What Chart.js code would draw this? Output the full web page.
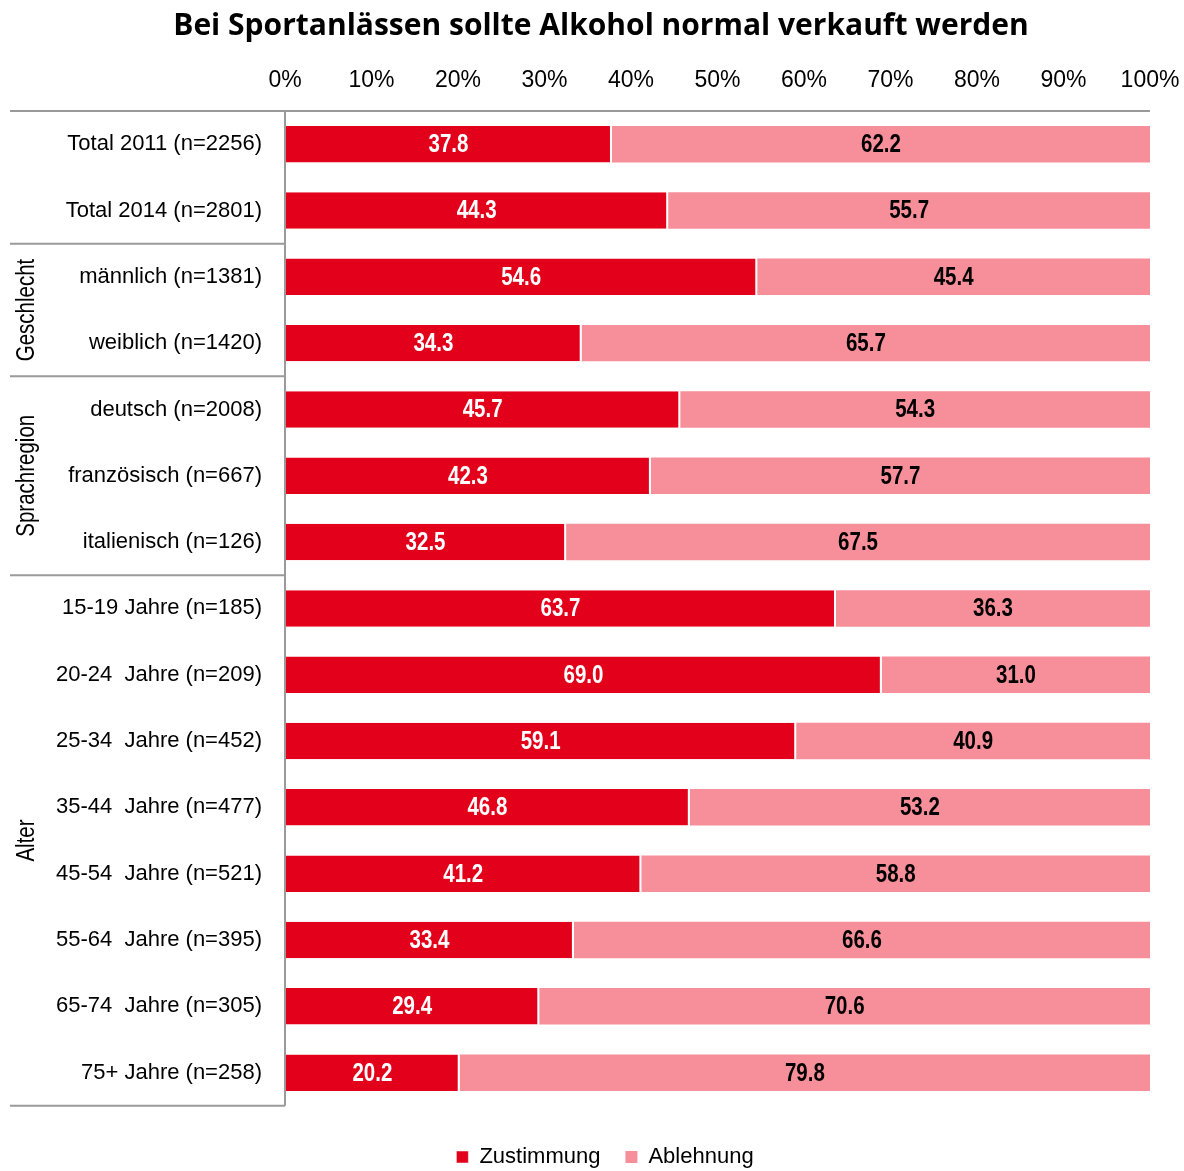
<!DOCTYPE html>
<html>
<head>
<meta charset="utf-8">
<script src="https://cdn.jsdelivr.net/npm/chart.js@4"></script>
<style>
  html, body { margin: 0; padding: 0; background: #fff; }
  canvas { display: block; }
</style>
</head>
<body>
<canvas id="barChart" width="1184" height="1171"></canvas>
<script>
// Kategorien und Werte
const categories = [
    'Total 2011 (n=2256)', 'Total 2014 (n=2801)',
    'männlich (n=1381)', 'weiblich (n=1420)',
    'deutsch (n=2008)', 'französisch (n=667)', 'italienisch (n=126)',
    '15-19 Jahre (n=185)', '20-24  Jahre (n=209)', '25-34  Jahre (n=452)',
    '35-44  Jahre (n=477)', '45-54  Jahre (n=521)', '55-64  Jahre (n=395)',
    '65-74  Jahre (n=305)', '75+ Jahre (n=258)'
];
const zustimmung = [37.8, 44.3, 54.6, 34.3, 45.7, 42.3, 32.5, 63.7, 69.0, 59.1, 46.8, 41.2, 33.4, 29.4, 20.2];
const ablehnung  = [62.2, 55.7, 45.4, 65.7, 54.3, 57.7, 67.5, 36.3, 31.0, 40.9, 53.2, 58.8, 66.6, 70.6, 79.8];
const seriesNames = ['Zustimmung', 'Ablehnung'];
// Gruppen: [Name, erster Index, letzter Index]
const groups = [
    ['', 0, 1],
    ['Geschlecht', 2, 3],
    ['Sprachregion', 4, 6],
    ['Alter', 7, 14]
];

const RED = '#E2001A';
const PINK = '#F78F9B';
const SANS = '"Liberation Sans", Arial, sans-serif';
const LINE = '#9a9a9a';
const SQUEEZE = 0.82; // schmale Schrift nachahmen

function narrowText(ctx, txt, x, y) {
    const w = ctx.measureText(txt).width;
    ctx.fillText(txt, x, y, w * SQUEEZE);
}

// Block horizontal auf eine Mitte schieben
function centerBox(box, cx) {
    if (!box) return;
    const d = cx - (box.left + box.right) / 2;
    box.left += d;
    box.right += d;
}

// Trennlinien, Gruppenbeschriftung und Werte in den Balken
const decoPlugin = {
    id: 'deco',
    afterLayout(chart) {
        // Titel und Legende wie im Original leicht nach rechts
        centerBox(chart.titleBlock, 601);
        centerBox(chart.legend, 605);
    },
    afterDraw(chart) {
        const ctx = chart.ctx;
        const y = chart.scales.y;
        const area = chart.chartArea;
        const px = i => y.getPixelForValue(i);
        ctx.save();
        ctx.strokeStyle = LINE;
        ctx.lineWidth = 2;
        // obere Linie über ganze Breite
        ctx.beginPath();
        ctx.moveTo(10, area.top);
        ctx.lineTo(area.right, area.top);
        ctx.stroke();
        // vertikale Achse
        ctx.beginPath();
        ctx.moveTo(area.left, area.top);
        ctx.lineTo(area.left, area.bottom);
        ctx.stroke();
        // Gruppengrenzen links
        groups.forEach(g => {
            const last = g[2];
            const yy = last === categories.length - 1 ? area.bottom : (px(last) + px(last + 1)) / 2;
            ctx.beginPath();
            ctx.moveTo(10, yy);
            ctx.lineTo(area.left, yy);
            ctx.stroke();
        });
        // Gruppennamen (gedreht)
        ctx.fillStyle = '#000';
        ctx.font = '25px ' + SANS;
        ctx.textAlign = 'center';
        ctx.textBaseline = 'middle';
        groups.forEach(g => {
            if (!g[0]) return;
            const top = g[1] === 0 ? area.top : (px(g[1] - 1) + px(g[1])) / 2;
            const bot = g[2] === categories.length - 1 ? area.bottom : (px(g[2]) + px(g[2] + 1)) / 2;
            ctx.save();
            ctx.translate(27, (top + bot) / 2);
            ctx.rotate(-Math.PI / 2);
            narrowText(ctx, g[0], 0, 0);
            ctx.restore();
        });
        // Werte
        ctx.font = 'bold 25px ' + SANS;
        chart.data.datasets.forEach((ds, di) => {
            const meta = chart.getDatasetMeta(di);
            ctx.fillStyle = di === 0 ? '#fff' : '#000';
            meta.data.forEach((bar, i) => {
                const x = (bar.x + bar.base) / 2;
                narrowText(ctx, ds.data[i].toFixed(1), x, bar.y + 1);
            });
        });
        ctx.restore();
    }
};

const ctx = document.getElementById('barChart').getContext('2d');
const chart = new Chart(ctx, {
    type: 'bar',
    data: {
        labels: categories,
        datasets: [{
            label: seriesNames[0],
            data: zustimmung,
            backgroundColor: RED,
            borderColor: '#fff',
            borderWidth: {left: 0, top: 0, bottom: 0, right: 2},
            borderSkipped: false,
            barPercentage: 0.55,
            categoryPercentage: 1
        }, {
            label: seriesNames[1],
            data: ablehnung,
            backgroundColor: PINK,
            borderWidth: 0,
            barPercentage: 0.55,
            categoryPercentage: 1
        }]
    },
    options: {
        indexAxis: 'y',
        responsive: false,
        animation: false,
        devicePixelRatio: 1,
        layout: { padding: { left: 0, right: 34, top: 0, bottom: -7 } },
        scales: {
            x: {
                position: 'top',
                stacked: true,
                min: 0,
                max: 100,
                grid: { display: false, drawTicks: false },
                border: { display: false },
                ticks: {
                    stepSize: 10,
                    padding: 17,
                    maxRotation: 0,
                    color: '#000',
                    font: { size: 23, family: SANS },
                    callback: v => v + '%'
                },
                afterFit(scale) {
                    scale.height = 111 - 44;
                    scale.paddingLeft = 0;
                    scale.paddingRight = 0;
                }
            },
            y: {
                stacked: true,
                grid: { display: false, drawTicks: false },
                border: { display: false },
                ticks: {
                    padding: 23,
                    color: '#000',
                    autoSkip: false,
                    font: { size: 22, family: SANS }
                },
                afterFit(scale) { scale.width = 285; }
            }
        },
        plugins: {
            title: {
                display: true,
                text: 'Bei Sportanlässen sollte Alkohol normal verkauft werden',
                color: '#000',
                font: { size: 30, weight: 'bold', family: '"Open Sans", sans-serif' },
                padding: { top: 8, bottom: 0 }
            },
            legend: {
                position: 'bottom',
                title: { display: true, text: ' ', font: { size: 1 }, padding: { top: 0, bottom: 14 } },
                labels: {
                    boxWidth: 12,
                    boxHeight: 12,
                    padding: 25,
                    color: '#000',
                    font: { size: 22, family: SANS }
                }
            },
            tooltip: { enabled: false }
        }
    },
    plugins: [decoPlugin]
});
</script>
</body>
</html>
